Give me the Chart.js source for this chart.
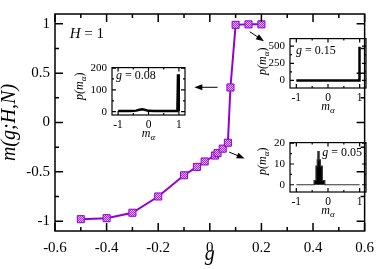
<!DOCTYPE html>
<html>
<head>
<meta charset="utf-8">
<script src="https://cdn.jsdelivr.net/npm/chart.js@4.4.1/dist/chart.umd.min.js"></script>
<style>
  html, body { margin: 0; padding: 0; background: #fff; }
  #wrap { position: relative; width: 382px; height: 269px; }
  #wrap canvas { position: absolute; }
</style>
</head>
<body>
<div id="wrap">
  <canvas id="main" width="382" height="269" style="left:0;top:0"></canvas>
  <canvas id="inset1"></canvas>
  <canvas id="inset2"></canvas>
  <canvas id="inset3"></canvas>
</div>
<script>
// main curve m(g;H,N) at H = 1
const gVals = [-0.5, -0.4, -0.3, -0.2, -0.1, -0.05, -0.02, 0.02, 0.03, 0.05, 0.07, 0.08, 0.1, 0.15, 0.2];
const mVals = [-0.98, -0.97, -0.915, -0.75, -0.535, -0.45, -0.395, -0.335, -0.31, -0.265, -0.205, 0.355, 0.99, 0.995, 0.995];
const xTicks = [-0.6, -0.4, -0.2, 0, 0.2, 0.4, 0.6];
const xMinor = [-0.5, -0.3, -0.1, 0.1, 0.3, 0.5];
const yTicks = [-1, -0.5, 0, 0.5, 1];
const yMinor = [-0.75, -0.25, 0.25, 0.75];
const fieldH = 1;

// insets: distributions p(m_alpha) at three values of g
const insetG = [0.08, 0.15, 0.05];
const mAlpha1 = [-1, -0.6, -0.4, -0.3, -0.2, -0.1, 0, 0.2, 0.6, 0.95, 0.97, 0.99, 1];
const pAlpha1 = [3, 3, 5, 9, 11, 8, 4, 3, 3, 3, 172, 172, 3];
const mAlpha2 = [-1, 0.98, 0.99, 1];
const pAlpha2 = [0, 0, 490, 0];
const mAlpha3 = [-1, -0.44, -0.38, -0.34, -0.32, -0.28, -0.24, -0.18, -0.1, 1];
const pAlpha3 = [0, 2, 9, 12, 16, 12, 9, 2, 0, 0];
const insetXTicks = [-1, 0, 1];
const insetXMinor = [-0.5, 0.5];
const insetYTicks = [[0, 100, 200], [0, 250, 500], [0, 10, 20]];
const insetYMinor = [[50, 150], [125, 375], [5, 15]];

const serif = "'Liberation Serif', 'DejaVu Serif', serif";
const violet = '#9400d3';

function fmt(v) {
  return String(Math.round(v * 100) / 100);
}

function fontStr(p) {
  return (p.italic ? 'italic ' : '') + p.size + 'px ' + serif;
}

function drawParts(ctx, parts, x, y, align) {
  const widths = parts.map(p => { ctx.font = fontStr(p); return ctx.measureText(p.t).width; });
  const total = widths.reduce((s, w) => s + w, 0);
  let cx = align === 'center' ? x - total / 2 : align === 'right' ? x - total : x;
  ctx.textAlign = 'left';
  ctx.textBaseline = 'middle';
  parts.forEach((p, i) => {
    ctx.font = fontStr(p);
    ctx.fillText(p.t, cx, y + (p.dy || 0));
    cx += widths[i];
  });
}

// box with inward ticks on all four sides
const frameTicks = {
  id: 'frameTicks',
  afterDatasetsDraw(chart, args, o) {
    const { ctx, chartArea: a } = chart;
    const sx = chart.scales.x, sy = chart.scales.y;
    ctx.save();
    ctx.strokeStyle = '#000';
    ctx.lineWidth = o.width;
    ctx.beginPath();
    const xm = (vals, len) => vals.forEach(v => {
      const px = sx.getPixelForValue(v);
      ctx.moveTo(px, a.bottom); ctx.lineTo(px, a.bottom - len);
      ctx.moveTo(px, a.top); ctx.lineTo(px, a.top + len);
    });
    const ym = (vals, len) => vals.forEach(v => {
      const py = sy.getPixelForValue(v);
      ctx.moveTo(a.left, py); ctx.lineTo(a.left + len, py);
      ctx.moveTo(a.right, py); ctx.lineTo(a.right - len, py);
    });
    xm(o.xMajor, o.major); xm(o.xMinor, o.minor);
    ym(o.yMajor, o.major); ym(o.yMinor, o.minor);
    ctx.stroke();
    ctx.strokeRect(a.left, a.top, a.right - a.left, a.bottom - a.top);
    ctx.restore();
  }
};

// "H = 1" and the arrows pointing at the insets (given in data units)
const arrows = [
  { from: [0.03, 0.357], to: [-0.06, 0.357] },
  { from: [0.155, 0.92], to: [0.21, 0.825] },
  { from: [0.075, -0.3], to: [0.135, -0.365] }
];
const mainNotes = {
  id: 'mainNotes',
  afterDraw(chart) {
    const { ctx } = chart;
    const sx = chart.scales.x, sy = chart.scales.y;
    ctx.save();
    ctx.fillStyle = '#000';
    drawParts(ctx, [{ t: 'H', italic: true, size: 15 }, { t: ' = ' + fieldH, size: 15 }],
      sx.getPixelForValue(-0.543), sy.getPixelForValue(0.895), 'left');
    ctx.strokeStyle = '#000';
    ctx.lineWidth = 1;
    arrows.forEach(ar => {
      const x0 = sx.getPixelForValue(ar.from[0]), y0 = sy.getPixelForValue(ar.from[1]);
      const x1 = sx.getPixelForValue(ar.to[0]), y1 = sy.getPixelForValue(ar.to[1]);
      const ang = Math.atan2(y1 - y0, x1 - x0);
      ctx.beginPath();
      ctx.moveTo(x0, y0);
      ctx.lineTo(x1 - 5 * Math.cos(ang), y1 - 5 * Math.sin(ang));
      ctx.stroke();
      ctx.beginPath();
      ctx.moveTo(x1, y1);
      ctx.lineTo(x1 - 8 * Math.cos(ang) + 3 * Math.sin(ang), y1 - 8 * Math.sin(ang) - 3 * Math.cos(ang));
      ctx.lineTo(x1 - 8 * Math.cos(ang) - 3 * Math.sin(ang), y1 - 8 * Math.sin(ang) + 3 * Math.cos(ang));
      ctx.closePath();
      ctx.fill();
    });
    ctx.restore();
  }
};

const mainCanvas = document.getElementById('main');
const mctx = mainCanvas.getContext('2d');
const tile = document.createElement('canvas');
tile.width = 2; tile.height = 2;
const tctx = tile.getContext('2d');
tctx.fillStyle = '#e4b4f6'; tctx.fillRect(0, 0, 2, 2);
tctx.fillStyle = '#a52ae0'; tctx.fillRect(0, 0, 1, 1); tctx.fillRect(1, 1, 1, 1);
const squareFill = mctx.createPattern(tile, 'repeat');

new Chart(mainCanvas, {
  type: 'line',
  data: {
    datasets: [{
      data: gVals.map((g, i) => ({ x: g, y: mVals[i] })),
      borderColor: violet,
      borderWidth: 2,
      pointStyle: 'rect',
      pointRadius: 5,
      pointBorderColor: violet,
      pointBorderWidth: 1,
      pointBackgroundColor: squareFill,
      tension: 0
    }]
  },
  options: {
    responsive: false,
    animation: false,
    events: [],
    layout: { padding: { left: 0, right: 12, top: 2, bottom: 0 } },
    scales: {
      x: {
        type: 'linear', min: -0.6, max: 0.6,
        afterFit: s => { s.height = 38; },
        afterBuildTicks: s => { s.ticks = xTicks.map(v => ({ value: v })); },
        grid: { display: false, drawTicks: false }, border: { display: false },
        ticks: { font: { family: serif, size: 15 }, color: '#000', padding: 8, maxRotation: 0, autoSkip: false, callback: v => fmt(v) },
        title: { display: true, text: 'g', color: '#000', font: { family: serif, size: 20, style: 'italic' }, padding: { top: 0, bottom: 2 } }
      },
      y: {
        type: 'linear', min: -1.1, max: 1.1,
        afterFit: s => { s.width = 55; },
        afterBuildTicks: s => { s.ticks = yTicks.map(v => ({ value: v })); },
        grid: { display: false, drawTicks: false }, border: { display: false },
        ticks: { font: { family: serif, size: 15 }, color: '#000', padding: 5, autoSkip: false, callback: v => fmt(v) },
        title: { display: true, text: 'm(g;H,N)', color: '#000', font: { family: serif, size: 20, style: 'italic', lineHeight: 1 }, padding: { top: 0, bottom: 0 } }
      }
    },
    plugins: {
      legend: { display: false },
      tooltip: { enabled: false },
      frameTicks: { xMajor: xTicks, xMinor: xMinor, yMajor: yTicks, yMinor: yMinor, major: 8, minor: 4, width: 1.5 }
    }
  },
  plugins: [frameTicks, mainNotes]
});

// inset layout (page pixels of each inset frame)
const insetBoxes = [
  { left: 112, top: 59, right: 185, bottom: 115, yRange: [-15, 202], titleGap: 32, titleShift: -5, label: { dx: 4, dy: 8, align: 'left' } },
  { left: 290, top: 30, right: 366, bottom: 88, yRange: [-110, 610], titleGap: 27, titleShift: -2, label: { dx: 6, dy: 12, align: 'left' } },
  { left: 290, top: 134, right: 366, bottom: 192, yRange: [-3.5, 20.3], titleGap: 27, titleShift: -6, label: { dx: -4, dy: 10, align: 'right' } }
];
const insetData = [[mAlpha1, pAlpha1], [mAlpha2, pAlpha2], [mAlpha3, pAlpha3]];
const axisW = 44, padTop = 3, padRight = 4, xAxisH = 30;

const insetNotes = {
  id: 'insetNotes',
  afterDraw(chart, args, o) {
    const { ctx, chartArea: a } = chart;
    ctx.save();
    ctx.fillStyle = '#000';
    const lx = o.align === 'right' ? a.right + o.dx : a.left + o.dx;
    drawParts(ctx, [{ t: 'g', italic: true, size: 12 }, { t: ' = ' + o.g, size: 12 }], lx, a.top + o.dy, o.align);
    drawParts(ctx, [{ t: 'm', italic: true, size: 12 }, { t: 'α', italic: true, size: 9, dy: 4 }],
      (a.left + a.right) / 2, a.bottom + 19, 'center');
    ctx.translate(a.left - o.titleGap, (a.top + a.bottom) / 2 + o.titleShift);
    ctx.rotate(-Math.PI / 2);
    drawParts(ctx, [{ t: 'p(m', italic: true, size: 12 }, { t: 'α', italic: true, size: 9, dy: 4 }, { t: ')', size: 12 }], 0, 0, 'center');
    ctx.restore();
  }
};

insetBoxes.forEach((b, k) => {
  const cv = document.getElementById('inset' + (k + 1));
  cv.width = b.right - b.left + axisW + padRight;
  cv.height = b.bottom - b.top + padTop + xAxisH;
  cv.style.left = (b.left - axisW) + 'px';
  cv.style.top = (b.top - padTop) + 'px';
  const [mx, py] = insetData[k];
  const hist = k === 2;
  new Chart(cv, {
    type: 'line',
    data: {
      datasets: [{
        data: mx.map((m, i) => ({ x: m, y: py[i] })),
        borderColor: hist ? '#333' : '#000',
        borderWidth: hist ? 1.2 : 2.5,
        backgroundColor: '#000',
        fill: hist ? 'origin' : false,
        stepped: hist ? 'before' : false,
        pointRadius: 0,
        tension: 0
      }]
    },
    options: {
      responsive: false,
      animation: false,
      events: [],
      layout: { padding: { left: 0, right: padRight, top: padTop, bottom: 0 } },
      scales: {
        x: {
          type: 'linear', min: -1.2, max: 1.2,
          afterFit: s => { s.height = xAxisH; },
          afterBuildTicks: s => { s.ticks = insetXTicks.map(v => ({ value: v })); },
          grid: { display: false, drawTicks: false }, border: { display: false },
          ticks: { font: { family: serif, size: 11.5 }, color: '#000', padding: 3, maxRotation: 0, autoSkip: false, callback: v => fmt(v) }
        },
        y: {
          type: 'linear', min: b.yRange[0], max: b.yRange[1],
          afterFit: s => { s.width = axisW; },
          afterBuildTicks: s => { s.ticks = insetYTicks[k].map(v => ({ value: v })); },
          grid: { display: false, drawTicks: false }, border: { display: false },
          ticks: { font: { family: serif, size: 11 }, color: '#000', padding: 5, autoSkip: false, callback: v => fmt(v) }
        }
      },
      plugins: {
        legend: { display: false },
        tooltip: { enabled: false },
        frameTicks: { xMajor: insetXTicks, xMinor: insetXMinor, yMajor: insetYTicks[k], yMinor: insetYMinor[k], major: 4, minor: 2, width: 1.2 },
        insetNotes: { g: insetG[k], titleGap: b.titleGap, titleShift: b.titleShift, dx: b.label.dx, dy: b.label.dy, align: b.label.align }
      }
    },
    plugins: [frameTicks, insetNotes]
  });
});
</script>
</body>
</html>
